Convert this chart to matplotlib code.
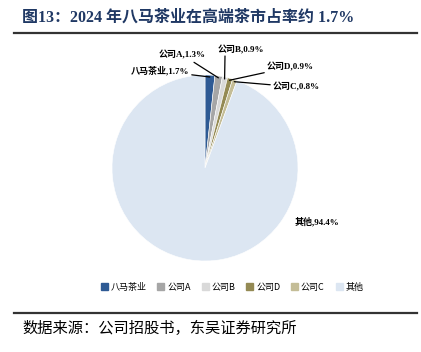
import matplotlib.pyplot as plt
import numpy as np
from matplotlib.lines import Line2D

plt.rcParams['font.family'] = ['Liberation Serif', 'Noto Sans CJK SC']

names = ['八马茶业', '公司A', '公司B', '公司D', '公司C', '其他']
shares = [1.7, 1.3, 0.9, 0.9, 0.8, 94.4]
colors = ['#2E5A94', '#A6A6A6', '#D9D9D9', '#948A54', '#C4BD97', '#DCE6F2']

W, H = 421, 352
fig = plt.figure(figsize=(W / 100, H / 100), dpi=100)

# pie area: centre (205,168) px, radius 93 px
cx, cy, r = 205, 168, 93
ax = fig.add_axes([(cx - r) / W, 1 - (cy + r) / H, 2 * r / W, 2 * r / H])
wedges, _ = ax.pie(shares, colors=colors, startangle=90, counterclock=False,
                   radius=1, wedgeprops=dict(edgecolor='white', linewidth=0.4))
ax.set_xlim(-1, 1)
ax.set_ylim(-1, 1)
ax.set_aspect('equal')
ax.axis('off')

cum = np.cumsum([0] + shares)


def slice_pt(i, rad=0.98):
    ang = np.deg2rad(90 - (cum[i] + shares[i] / 2) * 3.6)
    return rad * np.cos(ang), rad * np.sin(ang)


def px(x, y):
    return (x - cx) / r, (cy - y) / r


lab_kw = dict(fontsize=6.5, fontweight='bold', color='black', va='center',
              arrowprops=dict(arrowstyle='-', color='black', lw=0.9,
                              shrinkA=0, shrinkB=0))

# label anchors in px and alignment
label_pos = [((189, 71), 'right'), ((206, 55), 'right'), ((241, 50), 'center'),
             ((267, 67), 'left'), ((273, 87), 'left')]
for i, ((x, y), ha) in enumerate(label_pos):
    txt = '%s,%.1f%%' % (names[i], shares[i])
    tx, ty = px(x, y)
    if ha == 'center':
        ax.annotate('', xy=slice_pt(i), xytext=px(225, 56), **lab_kw)
        ax.text(tx, ty, txt, ha='center', va='center', fontsize=6.5, fontweight='bold')
    else:
        ax.annotate(txt, xy=slice_pt(i), xytext=(tx, ty), ha=ha, **lab_kw)

ox, oy = px(295, 222)
ax.text(ox, oy, '%s,%.1f%%' % (names[5], shares[5]), ha='left', va='center',
        fontsize=6.5, fontweight='bold')

# title and rules
fig.text(22 / W, 1 - 18 / H, '图13：2024 年八马茶业在高端茶市占率约 1.7%',
         fontsize=11.5, fontweight='bold', color='#1F3864', va='center', ha='left')
fig.add_artist(Line2D([14 / W, 417 / W], [1 - 33 / H] * 2, color='#333333', lw=1.6))
fig.add_artist(Line2D([14 / W, 417 / W], [1 - 313 / H] * 2, color='#333333', lw=1.6))
fig.text(22 / W, 1 - 328 / H, '数据来源：公司招股书，东吴证券研究所',
         fontsize=11, color='black', va='center', ha='left',
         family=['Noto Sans CJK SC'])

handles = [plt.Rectangle((0, 0), 1, 1, color=c) for c in colors]
fig.legend(handles, names, loc='center', bbox_to_anchor=(232 / W, 1 - 287 / H),
           ncol=6, frameon=False, handlelength=0.8, handleheight=0.8,
           handletextpad=0.3, columnspacing=1.2,
           prop=dict(family=['Noto Sans CJK SC'], size=6.5))

fig.savefig('out.png', dpi=100)
